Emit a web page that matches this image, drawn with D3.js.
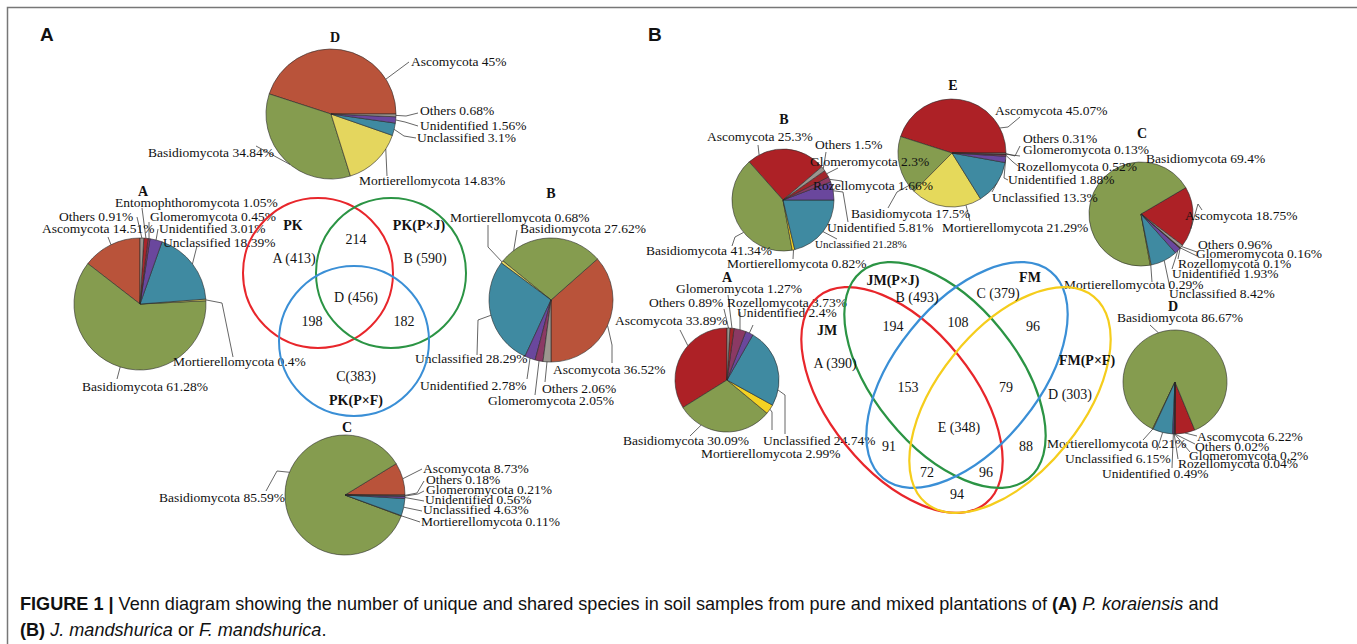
<!DOCTYPE html>
<html>
<head>
<meta charset="utf-8">
<script src="https://cdn.jsdelivr.net/npm/d3@7/dist/d3.min.js"></script>
<style>
  body { margin: 0; background: #fff; }
  svg text { font-family: "Liberation Serif", "Times New Roman", serif; fill: #111; }
  .cap { font-family: "Liberation Sans", Arial, sans-serif; }
</style>
</head>
<body>
<svg id="fig" width="1357" height="644"></svg>
<script>
// ---------- data ----------
// panel A (P. koraiensis) relative abundance, %
const pkNames6    = ["Ascomycota", "Basidiomycota", "Mortierellomycota", "Unclassified", "Unidentified", "Others"];
const pkNames7    = ["Ascomycota", "Basidiomycota", "Mortierellomycota", "Unclassified", "Unidentified", "Glomeromycota", "Others"];
const pkNames8    = ["Ascomycota", "Basidiomycota", "Mortierellomycota", "Unclassified", "Unidentified", "Glomeromycota", "Entomophthoromycota", "Others"];
const pkD_values  = [45, 34.84, 14.83, 3.1, 1.56, 0.68];
const pkA_values  = [14.51, 61.28, 0.4, 18.39, 3.01, 0.45, 1.05, 0.91];
const pkB_values  = [36.52, 27.62, 0.68, 28.29, 2.78, 2.05, 2.06];
const pkC_values  = [8.73, 85.59, 0.11, 4.63, 0.56, 0.21, 0.18];

// panel B (J. / F. mandshurica)
const jfNames     = ["Ascomycota", "Basidiomycota", "Mortierellomycota", "Unclassified", "Unidentified", "Rozellomycota", "Glomeromycota", "Others"];
const jfA_values  = [33.89, 30.09, 2.99, 24.74, 2.4, 3.73, 1.27, 0.89];
const jfB_values  = [25.3, 41.34, 0.82, 21.28, 5.81, 1.66, 2.3, 1.5];
const jfC_values  = [18.75, 69.4, 0.29, 8.42, 1.93, 0.1, 0.16, 0.96];
const jfD_values  = [6.22, 86.67, 0.21, 6.15, 0.49, 0.04, 0.2, 0.02];
const jfE_values  = [45.07, 17.5, 21.29, 13.3, 1.88, 0.52, 0.13, 0.31];

// venn counts
const vennA_sets     = ["PK", "PK(P×J)", "PK(P×F)"];
const vennA_totals   = [413, 590, 383];
const vennA_pairs    = [214, 198, 182];          // AB, AC, BC
const vennA_core     = 456;

const vennB_sets     = ["JM", "JM(P×J)", "FM", "FM(P×F)"];
const vennB_totals   = [390, 493, 379, 303];
const vennB_regions  = [194, 108, 96, 153, 79, 91, 88, 72, 96, 94];
const vennB_core     = 348;

// ---------- styles ----------
const colA = {
  Ascomycota: "#b9533a", Basidiomycota: "#859c4f", Mortierellomycota: "#e4d65e",
  Unclassified: "#3f8aa1", Unidentified: "#6a479d", Glomeromycota: "#8b3964",
  Entomophthoromycota: "#a8262b", Others: "#9c968f"
};
const colB = {
  Ascomycota: "#ad2126", Basidiomycota: "#859c4f", Mortierellomycota: "#f3d223",
  Unclassified: "#3f8aa1", Unidentified: "#6a479d", Rozellomycota: "#8b3964",
  Glomeromycota: "#a1262c", Others: "#9c968f"
};
const colE = Object.assign({}, colB, { Mortierellomycota: "#e5d95b" });

const RAD = Math.PI / 180;
const svg = d3.select("#fig");

// frame + panel letters
svg.append("rect").attr("x", 7.5).attr("y", 7.5).attr("width", 1400).attr("height", 700)
  .attr("fill", "none").attr("stroke", "#777").attr("stroke-width", 1.5);
svg.append("text").attr("class", "cap").attr("x", 40).attr("y", 41)
  .attr("font-size", 19).attr("font-weight", "bold").text("A");
svg.append("text").attr("class", "cap").attr("x", 648).attr("y", 41)
  .attr("font-size", 19).attr("font-weight", "bold").text("B");

// ---------- pies ----------
// label layout per slice: [x, y, anchor, fraction along slice for leader, leader points]
const pies = [
  { names: pkNames6, values: pkD_values, colors: colA, cx: 331, cy: 114, r: 65, start: 90,
    title: "D", tx: 335, ty: 42,
    labels: [
      [411, 66, "start", 0.2, [[409, 62]]],
      [274, 157, "end", 0.55, [[256, 146]]],
      [359, 185, "start", 0.75, [[387, 176]]],
      [417, 142, "start", 0.5, [[404, 136], [416, 138]]],
      [420, 130, "start", 0.5, [[405, 122], [418, 126]]],
      [420, 115, "start", 0.5, [[406, 116], [418, 113]]]
    ] },
  { names: pkNames8, values: pkA_values, colors: colA, cx: 140, cy: 304, r: 66, start: 0,
    title: "A", tx: 143, ty: 196,
    labels: [
      [42, 233, "start", 0.5, [[108, 237]]],
      [82, 391, "start", 0.5, [[117, 379]]],
      [173, 366, "start", 0.5, [[222, 303], [233, 357]]],
      [163, 247, "start", 0.5, [[197, 246]]],
      [159, 233, "start", 0.5, [[158, 229]]],
      [150, 221, "start", 0.5, [[149, 222]]],
      [115, 207, "start", 0.5, [[142, 208]]],
      [59, 221, "start", 0.5, [[137, 217]]]
    ] },
  { names: pkNames7, values: pkB_values, colors: colA, cx: 551, cy: 300, r: 62, start: 180,
    title: "B", tx: 551, ty: 198,
    labels: [
      [553, 374, "start", 0.5, [[612, 345], [612, 363]]],
      [520, 233, "start", 0.86, [[517, 230]]],
      [450, 222, "start", 0.5, [[488, 247], [488, 225]]],
      [415, 363, "start", 0.5, [[478, 320], [477, 355]]],
      [420, 390, "start", 0.5, [[527, 379]]],
      [488, 405, "start", 0.5, [[535, 395]]],
      [542, 393, "start", 0.5, [[545, 382]]]
    ] },
  { names: pkNames7, values: pkC_values, colors: colA, cx: 345, cy: 495, r: 60, start: 90,
    title: "C", tx: 347, ty: 432,
    labels: [
      [423, 473, "start", 0.5, [[422, 469]]],
      [285, 502, "end", 0.41, [[277, 471], [266, 491]]],
      [421, 526, "start", 0.5, [[420, 522]]],
      [423, 514, "start", 0.5, [[422, 511]]],
      [425, 504, "start", 0.5, [[424, 501]]],
      [426, 494, "start", 0.5, [[418, 494], [424, 491]]],
      [426, 484, "start", 0.5, [[417, 493], [424, 481]]]
    ] },
  { names: jfNames, values: jfA_values, colors: colB, cx: 727, cy: 380, r: 52, start: 0,
    title: "A", tx: 727, ty: 282,
    labels: [
      [615, 325, "start", 0.4, [[680, 330]]],
      [623, 445, "start", 0.26, [[690, 436]]],
      [701, 458, "start", 0.5, [[772, 412], [772, 430]]],
      [763, 445, "start", 0.2, [[785, 395], [785, 434]]],
      [737, 317, "start", 0.5, [[753, 325]]],
      [727, 307, "start", 0.5, [[740, 312]]],
      [676, 293, "start", 0.5, [[728, 295]]],
      [649, 307, "start", 0.5, [[724, 309]]]
    ] },
  { names: jfNames, values: jfB_values, colors: colB, cx: 783, cy: 200, r: 51, start: 49.46,
    title: "B", tx: 784, ty: 124,
    labels: [
      [707, 141, "start", 0.85, [[758, 145]]],
      [772, 255, "end", 0.59, [[735, 237], [732, 246]]],
      [727, 268, "start", 0.5, [[793, 259]]],
      [815, 248, "start", 0.5, [[837, 239]], 11],
      [827, 232, "start", 0.5, [[843, 192], [848, 222]]],
      [813, 190, "start", 0.5, [[842, 181]]],
      [810, 166, "start", 0.5, [[838, 168]]],
      [815, 149, "start", 0.5, [[826, 152]]]
    ] },
  { names: jfNames, values: jfE_values, colors: colE, cx: 952, cy: 153, r: 54, start: 90,
    title: "E", tx: 953, ty: 90,
    labels: [
      [995, 115, "start", 0.17, [[1008, 127], [1020, 117]]],
      [851, 218, "start", 0.87, [[897, 192], [888, 208]]],
      [942, 232, "start", 0.78, [[970, 221]]],
      [992, 202, "start", 0.5, [[992, 192]]],
      [1008, 184, "start", 0.5, [[1004, 178], [1008, 180]]],
      [1017, 171, "start", 0.5, [[1013, 162], [1018, 166]]],
      [1023, 154, "start", 0.5, [[1020, 156]]],
      [1023, 143, "start", 0.5, [[1015, 156], [1020, 146]]]
    ] },
  { names: jfNames, values: jfC_values, colors: colB, cx: 1141, cy: 214, r: 52, start: 127,
    title: "C", tx: 1142, ty: 138,
    labels: [
      [1185, 220, "start", 0.3, [[1198, 204], [1202, 210]]],
      [1146, 163, "start", 0.5, []],
      [1064, 289, "start", 0.5, [[1152, 282]]],
      [1169, 298, "start", 0.5, [[1170, 288]]],
      [1172, 278, "start", 0.5, [[1172, 269]]],
      [1178, 268, "start", 0.5, [[1178, 259]]],
      [1196, 258, "start", 0.5, [[1197, 256]]],
      [1198, 249, "start", 0.5, [[1197, 252]]]
    ] },
  { names: jfNames, values: jfD_values, colors: colB, cx: 1175, cy: 382, r: 52, start: 180,
    title: "D", tx: 1173, ty: 311,
    labels: [
      [1197, 441, "start", 0.5, [[1197, 436]]],
      [1117, 322, "start", 0.565, [[1150, 325]]],
      [1047, 448, "start", 0.5, [[1143, 440]]],
      [1065, 463, "start", 0.5, [[1157, 450]]],
      [1102, 478, "start", 0.5, [[1172, 468]]],
      [1178, 468, "start", 0.5, [[1178, 459]]],
      [1189, 460, "start", 0.5, [[1190, 452]]],
      [1195, 451, "start", 0.5, [[1195, 444]]]
    ] }
];

const pieLayer    = svg.append("g");
const leaderLayer = svg.append("g");
const labelLayer  = svg.append("g");
const line = d3.line();

pies.forEach(p => {
  const s0 = p.start * RAD;
  const arcs = d3.pie().sort(null).value(d => d)
    .startAngle(s0).endAngle(s0 - 2 * Math.PI)(p.values);
  const arc = d3.arc().innerRadius(0).outerRadius(p.r);

  pieLayer.append("g")
    .attr("transform", `translate(${p.cx},${p.cy})`)
    .selectAll("path")
    .data(arcs)
    .join("path")
    .attr("d", arc)
    .attr("fill", (d, i) => p.colors[p.names[i]])
    .attr("stroke", "#2a2a2a")
    .attr("stroke-width", 0.6)
    .attr("stroke-linejoin", "round");

  labelLayer.append("text")
    .attr("x", p.tx).attr("y", p.ty)
    .attr("text-anchor", "middle")
    .attr("font-size", 14).attr("font-weight", "bold")
    .text(p.title);

  arcs.forEach((d, i) => {
    const [x, y, anchor, f, pts, fs] = p.labels[i];
    const a = d.startAngle + f * (d.endAngle - d.startAngle);
    const start = [p.cx + p.r * Math.sin(a), p.cy - p.r * Math.cos(a)];
    if (pts.length) {
      leaderLayer.append("path")
        .attr("d", line([start, ...pts]))
        .attr("fill", "none")
        .attr("stroke", "#333")
        .attr("stroke-width", 0.75);
    }
    labelLayer.append("text")
      .attr("x", x).attr("y", y)
      .attr("text-anchor", anchor)
      .attr("font-size", fs || 13.5)
      .text(`${p.names[i]} ${d.data}%`);
  });
});

// ---------- venn A ----------
const circlesA = [
  { cx: 318, cy: 273, r: 75, c: "#e8262b" },
  { cx: 391, cy: 273, r: 75, c: "#2b9444" },
  { cx: 354, cy: 341, r: 75, c: "#3a8fd6" }
];
svg.append("g").selectAll("circle").data(circlesA).join("circle")
  .attr("cx", d => d.cx).attr("cy", d => d.cy).attr("r", d => d.r)
  .attr("fill", "none").attr("stroke", d => d.c).attr("stroke-width", 2);

const vennAText = [
  [vennA_sets[0], 293, 230, true],
  [vennA_sets[1], 419, 230, true],
  [vennA_sets[2], 356, 405, true],
  [`A (${vennA_totals[0]})`, 294, 263],
  [`B (${vennA_totals[1]})`, 425, 263],
  [`C(${vennA_totals[2]})`, 356, 381],
  [String(vennA_pairs[0]), 356, 244],
  [String(vennA_pairs[1]), 312, 326],
  [String(vennA_pairs[2]), 404, 326],
  [`D (${vennA_core})`, 356, 302]
];

// ---------- venn B ----------
const ellB = [
  { cx: 902, cy: 400, rot: 51, c: "#e8262b" },
  { cx: 945, cy: 375, rot: 51, c: "#2b9444" },
  { cx: 967, cy: 375, rot: -51, c: "#3a8fd6" },
  { cx: 1010, cy: 400, rot: -51, c: "#f5cd1c" }
];
svg.append("g").selectAll("ellipse").data(ellB).join("ellipse")
  .attr("cx", d => d.cx).attr("cy", d => d.cy).attr("rx", 133).attr("ry", 72)
  .attr("transform", d => `rotate(${d.rot},${d.cx},${d.cy})`)
  .attr("fill", "none").attr("stroke", d => d.c).attr("stroke-width", 2.2);

const regionXY = [[893, 331], [958, 327], [1033, 331], [908, 392], [1006, 392],
                  [889, 451], [1026, 451], [927, 477], [986, 477], [957, 499]];
const vennBText = [
  [vennB_sets[0], 827, 335, true],
  [vennB_sets[1], 893, 285, true],
  [vennB_sets[2], 1030, 282, true],
  [vennB_sets[3], 1087, 365, true],
  [`A (${vennB_totals[0]})`, 835, 368],
  [`B (${vennB_totals[1]})`, 917, 302],
  [`C (${vennB_totals[2]})`, 998, 298],
  [`D (${vennB_totals[3]})`, 1070, 399],
  [`E (${vennB_core})`, 959, 432],
  ...vennB_regions.map((v, i) => [String(v), regionXY[i][0], regionXY[i][1]])
];

svg.append("g").selectAll("text").data(vennAText.concat(vennBText)).join("text")
  .attr("x", d => d[1]).attr("y", d => d[2])
  .attr("text-anchor", "middle")
  .attr("font-size", 14)
  .attr("font-weight", d => d[3] ? "bold" : "normal")
  .text(d => d[0]);

// ---------- caption ----------
const cap1 = svg.append("text").attr("class", "cap").attr("x", 20).attr("y", 610).attr("font-size", 18.1);
cap1.append("tspan").attr("font-weight", "bold").text("FIGURE 1 |");
cap1.append("tspan").text(" Venn diagram showing the number of unique and shared species in soil samples from pure and mixed plantations of ");
cap1.append("tspan").attr("font-weight", "bold").text("(A)");
cap1.append("tspan").text(" ");
cap1.append("tspan").attr("font-style", "italic").text("P. koraiensis");
cap1.append("tspan").text(" and");

const cap2 = svg.append("text").attr("class", "cap").attr("x", 20).attr("y", 636).attr("font-size", 18.1);
cap2.append("tspan").attr("font-weight", "bold").text("(B)");
cap2.append("tspan").text(" ");
cap2.append("tspan").attr("font-style", "italic").text("J. mandshurica");
cap2.append("tspan").text(" or ");
cap2.append("tspan").attr("font-style", "italic").text("F. mandshurica");
cap2.append("tspan").text(".");
</script>
</body>
</html>
